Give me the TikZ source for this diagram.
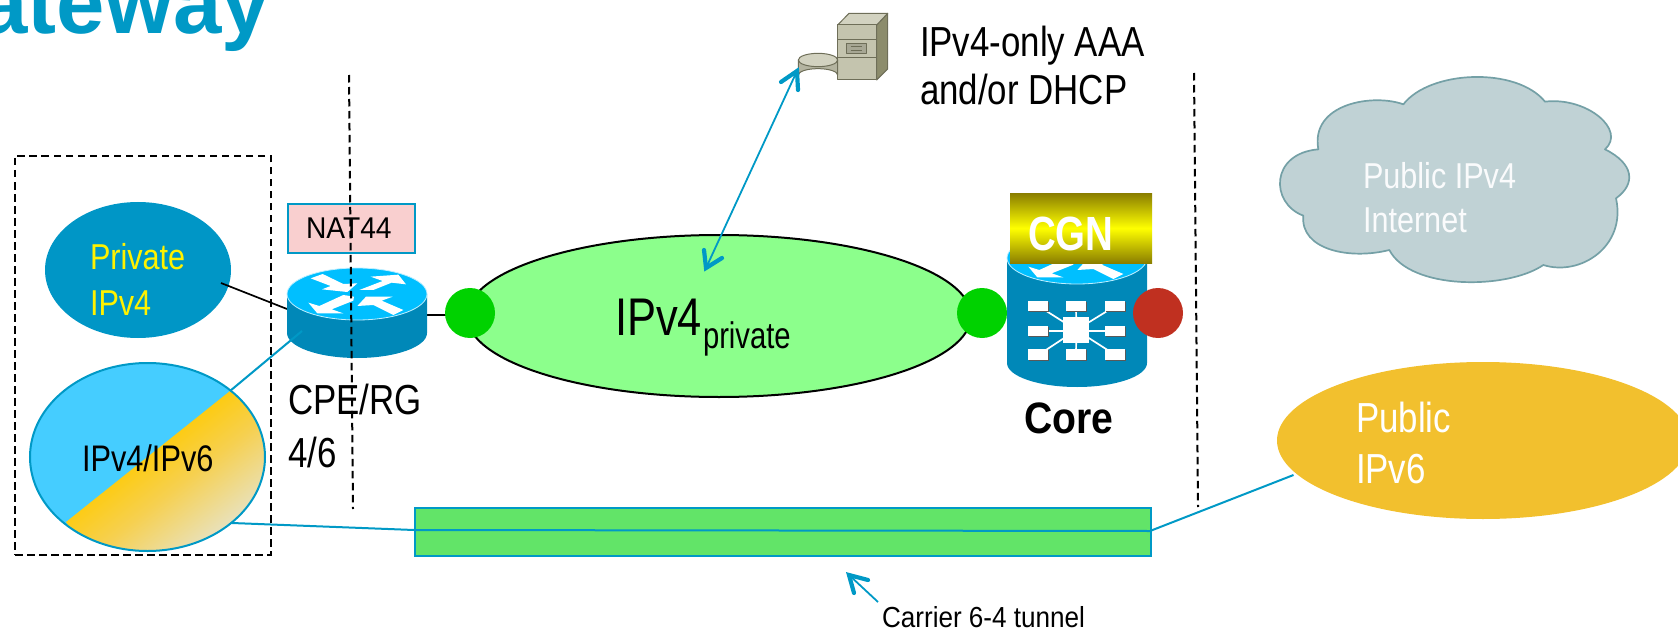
\documentclass[tikz,border=0pt]{standalone}
\usepackage{fontspec}
\setmainfont{Liberation Sans}
\usetikzlibrary{shapes.geometric}
\definecolor{linkblue}{HTML}{0099C6}
\definecolor{routertop}{HTML}{00BFFF}
\definecolor{routerside}{HTML}{0088B8}
\definecolor{splitblue}{HTML}{45CDFF}
\definecolor{splitorange}{HTML}{FFCA00}
\definecolor{splitmid}{HTML}{F6D050}
\definecolor{splitpale}{HTML}{E8E2C0}
\definecolor{privateblue}{HTML}{0096C6}
\definecolor{ltgreen}{HTML}{8CFF8C}
\definecolor{tunnelgreen}{HTML}{62E468}
\definecolor{dotgreen}{HTML}{00D200}
\definecolor{dotred}{HTML}{C03020}
\definecolor{natpink}{HTML}{F9CFCF}
\definecolor{cloudfill}{HTML}{C0D2D5}
\definecolor{cloudline}{HTML}{74A0A6}
\definecolor{pubyellow}{HTML}{F2C02E}
\definecolor{cgnolive}{HTML}{8A7E00}
\definecolor{srvfront}{HTML}{C4C4AE}
\definecolor{srvtop}{HTML}{D2D2C0}
\definecolor{srvside}{HTML}{8C8C6C}
\definecolor{srvline}{HTML}{6E6E58}
\pgfdeclareverticalshading{splitgrad}{100bp}{color(0bp)=(splitpale); color(30bp)=(splitpale); color(47bp)=(splitmid); color(62bp)=(splitorange); color(100bp)=(splitorange)}
\newcommand{\txt}[3]{\scalebox{#2}[1]{\fontsize{#1}{#1}\selectfont #3}}
\tikzset{
  lbl/.style={anchor=base west,inner sep=0pt,outer sep=0pt},
  dashline/.style={black,line width=2pt,dash pattern=on 7.5pt off 4.5pt},
  link/.style={linkblue,line width=2pt},
  plain/.style={black,line width=1.7pt},
  shaft/.style={linkblue,line width=1.8pt},
  barb/.style={linkblue,line width=4.2pt,line cap=round,line join=miter},
  dot/.style={circle,minimum size=50pt,inner sep=0pt},
  oval/.style={ellipse,inner sep=0pt},
  srv/.style={draw=srvline,line width=1pt,line join=round},
}
\newcommand{\routerarrows}{%
  \fill[white] (152,295)--(188,282)--(250,312)--(292,310)--(262,336)--(186,328)--(212,318)--cycle;
  \fill[white] (298,330)--(340,330)--(395,308)--(438,313)--(415,284)--(332,290)--(368,303)--cycle;
  \fill[white] (282,350)--(250,345)--(178,378)--(145,368)--(172,400)--(250,400)--(215,388)--(280,362)--cycle;
  \fill[white] (292,378)--(318,350)--(398,350)--(365,362)--(430,390)--(400,405)--(340,375)--cycle;
}
\newcommand{\swbox}[2]{%
  \fill[black!65] (#1+3,#2+3) rectangle ++(60,32);
  \fill[white] (#1,#2) rectangle ++(60,32);
}
\begin{document}
\begin{tikzpicture}[x=1pt,y=-1pt]
\useasboundingbox (0,0) rectangle (1678,631);
\clip (0,0) rectangle (1678,631);

% title
\node[anchor=base east,inner sep=0pt,text=linkblue] (title) at (270,34)
  {\fontsize{87}{87}\selectfont\bfseries ateway};

% cloud
\begin{scope}[shift={(1260,60)},x=.33333pt,y=-.33333pt]
\path[fill=cloudfill,draw=cloudline,line width=1.7pt,line join=round]
  (175,268) .. controls (150,130) and (340,100) .. (430,133)
  .. controls (510,30) and (770,20) .. (855,125)
  .. controls (980,110) and (1100,210) .. (1035,268)
  .. controls (1120,310) and (1130,370) .. (1068,415)
  .. controls (1100,560) and (960,650) .. (850,615)
  .. controls (740,690) and (450,690) .. (388,570)
  .. controls (270,600) and (120,570) .. (130,467)
  .. controls (30,430) and (30,280) .. (175,268) -- cycle;
\end{scope}
\node[lbl,text=white!92!cloudfill] (pub4a) at (1363,189) {\txt{36}{.85}{Public IPv4}};
\node[lbl,text=white!92!cloudfill] (pub4b) at (1363,233) {\txt{36}{.85}{Internet}};

% public IPv6
\node[oval,fill=pubyellow,minimum width=412pt,minimum height=157pt] (pub6) at (1483,440.5) {};
\node[lbl,text=white] (pub6a) at (1356,432) {\txt{42}{.83}{Public}};
\node[lbl,text=white] (pub6b) at (1356,483) {\txt{42}{.83}{IPv6}};

% tunnel
\coordinate (tunL) at (414,530);
\coordinate (tunR) at (1150,531);
\coordinate (pub6end) at (1293.5,475);
\coordinate (dualend) at (232,523);
\node[fill=tunnelgreen,draw=linkblue,line width=2pt,minimum width=736pt,minimum height=48pt,inner sep=0pt,anchor=north west] (tunnel) at (414,507) {};
\draw[link] (dualend) -- (tunL) -- (tunR) -- (pub6end);

% dashed frame
\node[draw,dashline,minimum width=255.5pt,minimum height=399pt,inner sep=0pt,anchor=north west] (lan) at (14,155) {};

% private
\node[oval,fill=privateblue,minimum width=186pt,minimum height=136pt] (priv) at (138,270) {};
\node[lbl,text=yellow] (priva) at (90,269) {\txt{36}{.85}{Private}};
\node[lbl,text=yellow] (privb) at (90,315) {\txt{36}{.85}{IPv4}};

% dual
\begin{scope}
\clip (147.5,457) ellipse [x radius=117.5pt,y radius=94pt];
\fill[splitblue] (20,350) rectangle (280,560);
\shade[shading=splitgrad,shading angle=38]
  (230,391) -- (66,522) -- (90,560) -- (230,560) -- (280,520) -- (280,391) -- cycle;
\end{scope}
\node[oval,draw=linkblue,line width=2pt,minimum width=235pt,minimum height=188pt] (dual) at (147.5,457) {};
\node[lbl] (duallabel) at (82,471) {\txt{37}{.83}{IPv4/IPv6}};

% green ellipse
\node[oval,fill=ltgreen,draw=black,line width=2pt,minimum width=504pt,minimum height=162pt] (net) at (719,316) {};
\node[lbl] (netlabel) at (615,335) {\txt{53}{.82}{IPv4}};
\node[lbl] (netsub) at (703,348) {\txt{37}{.79}{private}};

% connectors to router
\coordinate (privend) at (221,283);
\coordinate (rtA) at (287,309);
\coordinate (rtB) at (302,331);
\coordinate (dualtop) at (230,391);
\coordinate (rtC) at (427,315);
\draw[plain] (privend) -- (rtA);
\draw[plain] (rtC) -- (450,315);

% router
\path[fill=routerside] (287,294) -- (287,333) arc[start angle=180,end angle=360,x radius=70pt,y radius=25pt] -- (427,294) -- cycle;
\node[oval,fill=routertop,draw=white!75!routertop,line width=.8pt,minimum width=140pt,minimum height=52pt] (router) at (357,294) {};
\begin{scope}[shift={(260,180)},x=.33333pt,y=-.33333pt]\routerarrows\end{scope}
\draw[link] (dualtop) -- (rtB);

% NAT44
\node[fill=natpink,draw=linkblue,line width=2pt,minimum width=127pt,minimum height=49pt,inner sep=0pt,anchor=north west] (nat) at (287,203) {};
\node[lbl] (natlabel) at (306,238) {\txt{30}{.94}{NAT44}};

\node[lbl] (cpea) at (288,414) {\txt{42}{.83}{CPE/RG}};
\node[lbl] (cpeb) at (288,467) {\txt{42}{.83}{4/6}};

% core
\path[fill=routerside] (1007,258) -- (1007,363) arc[start angle=180,end angle=360,x radius=70pt,y radius=24pt] -- (1147,258) -- cycle;
\node[oval,fill=routertop,draw=white!75!routertop,line width=.8pt,minimum width=140pt,minimum height=52pt] (core) at (1077,258) {};
\begin{scope}[shift={(980,144)},x=.33333pt,y=-.33333pt]\routerarrows\end{scope}
\begin{scope}[shift={(950,180)},x=.33333pt,y=-.33333pt]
\draw[white,line width=1.7pt] (265,378)--(379,450) (378,378)--(379,450) (496,378)--(379,450)
  (265,453)--(496,453) (265,525)--(379,450) (378,525)--(379,450) (496,525)--(379,450);
\swbox{235}{362}\swbox{348}{362}\swbox{466}{362}
\swbox{235}{437}\swbox{466}{437}
\swbox{235}{508}\swbox{348}{508}\swbox{466}{508}
\fill[white] (340,412) rectangle (418,488);
\end{scope}
\node[fill=cgnolive,top color=cgnolive,bottom color=cgnolive,middle color=yellow,minimum width=142pt,minimum height=70pt,inner sep=0pt,anchor=north west] (cgn) at (1010,193) {};
\node[lbl,text=white] (cgnlabel) at (1028,250) {\txt{48}{.8}{\bfseries CGN}};
\node[lbl] (corelabel) at (1024,433) {\txt{44}{.89}{\bfseries Core}};

% dots
\node[dot,fill=dotgreen] (d1) at (470,313) {};
\node[dot,fill=dotgreen] (d2) at (982,313) {};
\node[dot,fill=dotred] (d3) at (1158,313) {};

% server
\begin{scope}[shift={(760,0)},x=.33333pt,y=-.33333pt]
\path[srv,fill=srvside] (350,75) -- (383,40) -- (383,207) -- (350,240) -- cycle;
\path[srv,fill=srvtop] (233,75) -- (267,40) -- (383,40) -- (350,75) -- cycle;
\path[srv,fill=srvfront] (233,75) rectangle (350,240);
\draw[srv] (233,118) -- (350,118) (233,172) -- (350,172);
\path[srv,fill=srvfront!85!black] (260,130) rectangle (318,162);
\draw[srvline,line width=.6pt] (272,140) -- (306,140) (272,150) -- (306,150);
\path[srv,fill=srvfront!92!black] (115,180) -- (115,225) arc[start angle=180,end angle=360,x radius=59,y radius=19] -- (233,180) -- cycle;
\path[srv,fill=srvtop] (174,180) ellipse [x radius=59,y radius=20];
\end{scope}
\node[lbl] (aaaa) at (920,57) {\txt{42}{.83}{IPv4-only AAA}};
\node[lbl] (aaab) at (920,105) {\txt{42}{.83}{and/or DHCP}};

% double arrow
\coordinate (srvpt) at (797,71);
\coordinate (netpt) at (706,268);
\coordinate (srvA) at (781,82);
\coordinate (srvB) at (798,90);
\coordinate (netA) at (704,250);
\coordinate (netB) at (722,258);
\draw[shaft] (srvpt) -- (netpt);
\draw[barb] (srvA) -- (srvpt) -- (srvB);
\draw[barb] (netA) -- (netpt) -- (netB);

% carrier
\coordinate (tunpt) at (849,575);
\coordinate (carpt) at (878,602);
\coordinate (carA) at (868,580);
\coordinate (carB) at (854,593);
\draw[shaft] (carpt) -- (tunpt);
\draw[barb] (carA) -- (tunpt) -- (carB);
\node[lbl] (carrier) at (882,627) {\txt{29}{.9}{Carrier 6-4 tunnel}};

% dashed verticals
\coordinate (v1a) at (349,75);
\coordinate (v1b) at (353,509);
\coordinate (v2a) at (1194,73);
\coordinate (v2b) at (1198,507);
\draw[dashline] (v1a) -- (v1b);
\draw[dashline] (v2a) -- (v2b);
\end{tikzpicture}
\end{document}
